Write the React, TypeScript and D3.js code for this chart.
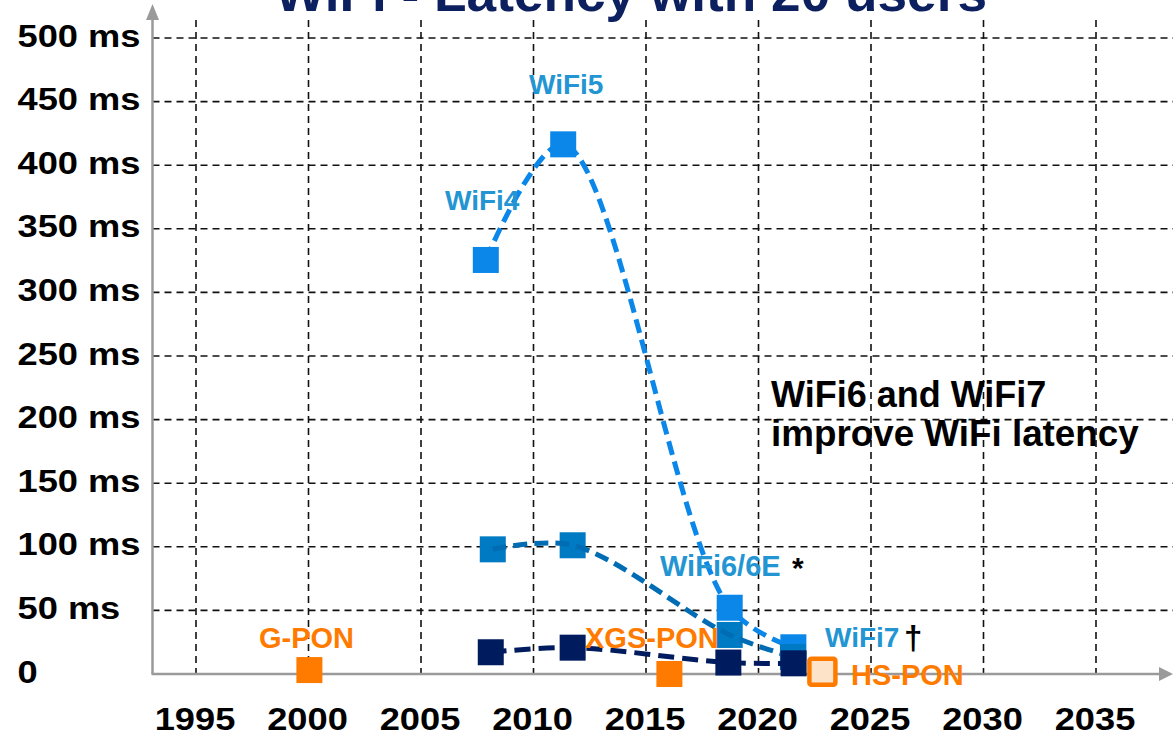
import React from "react";
import * as d3 from "d3";

const W = 1173;
const H = 742;

// Tick values and labels
const xTicks = [1995, 2000, 2005, 2010, 2015, 2020, 2025, 2030, 2035];
const yTicks = [0, 50, 100, 150, 200, 250, 300, 350, 400, 450, 500];
const yTickLabels = ["0", "50 ms", "100 ms", "150 ms", "200 ms", "250 ms", "300 ms", "350 ms", "400 ms", "450 ms", "500 ms"];

// Series: WiFi latency (three curves)
const lightYears = [2007.88, 2011.32, 2018.72, 2021.55];
const lightValues = [325.5, 416.4, 52.1, 21.0];
const mediumYears = [2008.19, 2011.74, 2018.72, 2021.53];
const mediumValues = [98.0, 101.2, 30.7, 13.4];
const navyYears = [2008.1, 2011.74, 2018.66, 2021.56];
const navyValues = [17.1, 20.7, 9.0, 8.4];

// PON points
const ponNames = ["G-PON", "XGS-PON", "HS-PON"];
const ponYears = [2000.04, 2016.04, 2022.84];
const ponValues = [3.1, 0, 1.8];
const ponHollow = [false, false, true];

const FONT = "'Liberation Sans', Arial, Helvetica, sans-serif";

export default function App() {
  const x = d3.scaleLinear().domain([1995, 2035]).range([196, 1096]);
  const y = d3.scaleLinear().domain([0, 500]).range([674, 38]);
  const axisX0 = 152.5;
  const axisY0 = 674;

  const line = d3
    .line<[number, number]>()
    .x((d) => x(d[0]))
    .y((d) => y(d[1]))
    .curve(d3.curveCatmullRom.alpha(0.5));

  const series = [
    { years: lightYears, values: lightValues, marker: "#0a87e9", stroke: "#0a87e9", dash: "14,7" },
    { years: mediumYears, values: mediumValues, marker: "#007ac2", stroke: "#006cb4", dash: "14,7" },
    { years: navyYears, values: navyValues, marker: "#001c5e", stroke: "#001c5e", dash: "16,8" },
  ];
  const ms = 26;

  const wifiLabel = "#2395d3";
  const orange = "#ff7b00";

  return (
    <svg width={W} height={H} style={{ position: "absolute", left: 0, top: 0, background: "#fff" }}>
      <rect x={0} y={0} width={W} height={H} fill="#fff" />
      {/* Title (clipped at top as in the reference) */}
      <text
        x={275}
        y={11}
        textLength={712}
        lengthAdjust="spacingAndGlyphs"
        fontFamily={FONT}
        fontWeight="bold"
        fontSize={52}
        fill="#0c1f5e"
      >
        WiFi - Latency with 20 users
      </text>

      {/* Grid lines */}
      {yTicks
        .filter((v) => v > 0)
        .map((v) => (
          <line
            key={"hy" + v}
            x1={axisX0}
            x2={W}
            y1={y(v)}
            y2={y(v)}
            stroke="#111"
            strokeWidth={1.6}
            strokeDasharray="7,5"
          />
        ))}
      {xTicks.map((t) => (
        <line
          key={"vx" + t}
          x1={x(t)}
          x2={x(t)}
          y1={20}
          y2={axisY0}
          stroke="#111"
          strokeWidth={1.6}
          strokeDasharray="7,5"
        />
      ))}

      {/* Axes */}
      <line x1={axisX0} x2={axisX0} y1={axisY0} y2={18} stroke="#9a9a9a" strokeWidth={2.5} />
      <path d={`M${axisX0},4 L${axisX0 - 6.5},20 L${axisX0 + 6.5},20 Z`} fill="#9a9a9a" />
      <line x1={axisX0 - 1} x2={1161} y1={axisY0} y2={axisY0} stroke="#9a9a9a" strokeWidth={2.5} />
      <path d={`M1173,${axisY0} L1159,${axisY0 - 7} L1159,${axisY0 + 7} Z`} fill="#9a9a9a" />

      {/* Y tick labels */}
      {yTicks.map((v, i) => (
        <text
          key={"yl" + v}
          transform={`translate(17.5,${y(v) + 8.5}) scale(1.17,1)`}
          fontFamily={FONT}
          fontWeight="bold"
          fontSize={31}
          fill="#000"
        >
          {yTickLabels[i]}
        </text>
      ))}

      {/* X tick labels */}
      {xTicks.map((t) => (
        <text
          key={"xl" + t}
          transform={`translate(${x(t) - 1},730) scale(1.17,1)`}
          textAnchor="middle"
          fontFamily={FONT}
          fontWeight="bold"
          fontSize={31}
          fill="#000"
        >
          {t}
        </text>
      ))}

      {/* WiFi series: markers then dashed smooth lines */}
      {series.map((s, si) => {
        const pts: [number, number][] = s.years.map((yr, i) => [yr, s.values[i]]);
        return (
          <g key={"s" + si}>
            {pts.map((p, i) => (
              <rect
                key={i}
                x={x(p[0]) - ms / 2}
                y={y(p[1]) - ms / 2}
                width={ms}
                height={ms}
                fill={s.marker}
              />
            ))}
            <path
              d={line(pts) || ""}
              fill="none"
              stroke={s.stroke}
              strokeWidth={5}
              strokeDasharray={s.dash}
            />
          </g>
        );
      })}

      {/* PON markers */}
      {ponYears.map((yr, i) =>
        ponHollow[i] ? (
          <rect
            key={"p" + i}
            x={x(yr) - 13}
            y={y(ponValues[i]) - 13}
            width={26}
            height={26}
            rx={2}
            fill="#fde3c8"
            stroke={orange}
            strokeWidth={4.5}
          />
        ) : (
          <rect
            key={"p" + i}
            x={x(yr) - ms / 2}
            y={y(ponValues[i]) - ms / 2}
            width={ms}
            height={ms}
            fill={orange}
          />
        )
      )}

      {/* Labels */}
      <g fontFamily={FONT} fontWeight="bold">
        <text x={529} y={94} fontSize={28} fill={wifiLabel}>WiFi5</text>
        <text x={445} y={210} fontSize={28} fill={wifiLabel}>WiFi4</text>
        <text x={660} y={576} fontSize={29} fill={wifiLabel}>WiFi6/6E</text>
        <text x={792} y={578} fontSize={30} fill="#000">*</text>
        <text x={825} y={647} fontSize={28} fill={wifiLabel}>WiFi7</text>
        <text x={904} y={649} fontSize={33} fill="#000">†</text>
        <text x={259} y={648} fontSize={29} fill={orange}>{ponNames[0]}</text>
        <text x={585} y={648} fontSize={29} fill={orange}>{ponNames[1]}</text>
        <text x={851} y={685} fontSize={29} fill={orange}>{ponNames[2]}</text>
        <text x={771} y={407} fontSize={36} fill="#000">WiFi6 and WiFi7</text>
        <text x={771} y={446} fontSize={36.8} fill="#000">improve WiFi latency</text>
      </g>
    </svg>
  );
}
